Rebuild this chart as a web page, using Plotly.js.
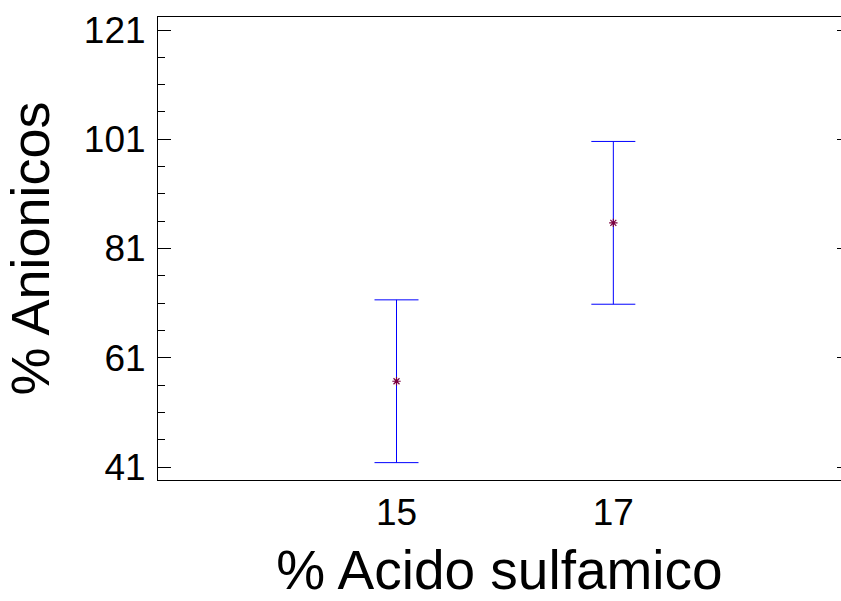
<!DOCTYPE html>
<html>
<head>
<meta charset="utf-8">
<script src="https://cdn.plot.ly/plotly-3.0.1.min.js"></script>
<style>html,body{margin:0;padding:0;background:#fff;}#chart{width:841px;height:601px;}</style>
</head>
<body>
<div id="chart"></div>
<script>
var xValues = [15, 17];
var means = [56.7, 85.7];
var errors = [14.9, 14.9];
var yTickVals = [41, 61, 81, 101, 121];
var yTickText = ['41', '61', '81', '101', '121'];
var xTickVals = [15, 17];
var xTickText = ['15', '17'];

var font = 'Liberation Sans, Arial, sans-serif';

var trace = {
  x: xValues,
  y: means,
  type: 'scatter',
  mode: 'markers',
  marker: {symbol: 'asterisk-open', size: 7, color: '#7a0040', line: {width: 1.2, color: '#7a0040'}},
  error_y: {type: 'data', array: errors, visible: true, color: '#0000ff', thickness: 1, width: 22},
  showlegend: false,
  hoverinfo: 'skip'
};
var dummy = {
  x: xValues, y: means, yaxis: 'y2', type: 'scatter', mode: 'markers',
  marker: {opacity: 0}, showlegend: false, hoverinfo: 'skip'
};

var layout = {
  width: 841, height: 601,
  margin: {l: 158, r: 0, t: 17, b: 121, pad: 0},
  paper_bgcolor: '#fff', plot_bgcolor: '#fff',
  font: {family: font, color: '#000'},
  xaxis: {
    range: [12.8, 19.1],
    tickvals: xTickVals, ticktext: xTickText,
    ticks: '', showgrid: false, zeroline: false,
    showline: true, mirror: true, linecolor: '#000', linewidth: 1,
    tickfont: {size: 37, family: font, color: '#000'},
    ticklabelstandoff: 0,
    title: {text: '% Acido sulfamico', font: {size: 55, family: font, color: '#000'}, standoff: 22}
  },
  yaxis: {
    range: [38.62, 123.38],
    tickvals: yTickVals, ticktext: yTickText,
    ticks: 'inside', ticklen: 13, tickwidth: 1, tickcolor: '#000',
    minor: {tickmode: 'linear', tick0: 41, dtick: 5, ticks: 'inside', ticklen: 7, tickwidth: 1, tickcolor: '#000', showgrid: false},
    showgrid: false, zeroline: false,
    showline: true, linecolor: '#000', linewidth: 1,
    tickfont: {size: 37, family: font, color: '#000'},
    ticklabelstandoff: 4,
    title: {text: '% Anionicos', font: {size: 54, family: font, color: '#000'}, standoff: 18}
  },
  yaxis2: {
    overlaying: 'y', side: 'right',
    range: [38.62, 123.38],
    tickvals: yTickVals, ticktext: yTickText,
    ticks: 'inside', ticklen: 4, tickwidth: 1, tickcolor: '#000',
    showticklabels: false, showgrid: false, zeroline: false, showline: false
  }
};

Plotly.newPlot('chart', [trace, dummy], layout, {staticPlot: true, displayModeBar: false});
</script>
</body>
</html>
